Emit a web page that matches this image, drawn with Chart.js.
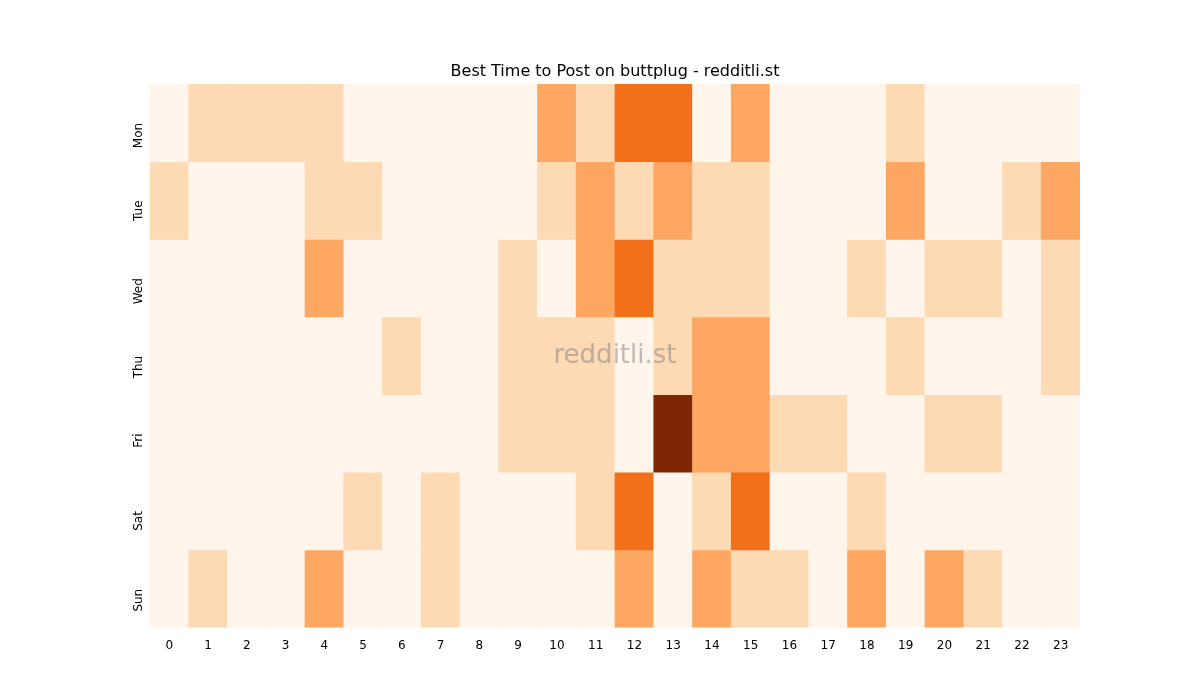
<!DOCTYPE html>
<html><head><meta charset="utf-8">
<script src="https://cdn.jsdelivr.net/npm/chart.js@4"></script>
<style>body{margin:0;background:#fff}#w{width:1200px;height:700px}</style></head>
<body><div id="w"><canvas id="c"></canvas></div>
<script>
const hours = Array.from({length:24},(_,i)=>String(i));
const days = ["Mon","Tue","Wed","Thu","Fri","Sat","Sun"];
const mon = [0,1,1,1,1,0,0,0,0,0,2,1,3,3,0,2,0,0,0,1,0,0,0,0];
const tue = [1,0,0,0,1,1,0,0,0,0,1,2,1,2,1,1,0,0,0,2,0,0,1,2];
const wed = [0,0,0,0,2,0,0,0,0,1,0,2,3,1,1,1,0,0,1,0,1,1,0,1];
const thu = [0,0,0,0,0,0,1,0,0,1,1,1,0,1,2,2,0,0,0,1,0,0,0,1];
const fri = [0,0,0,0,0,0,0,0,0,1,1,1,0,4,2,2,1,1,0,0,1,1,0,0];
const sat = [0,0,0,0,0,1,0,1,0,0,0,1,3,0,1,3,0,0,1,0,0,0,0,0];
const sun = [0,1,0,0,2,0,0,1,0,0,0,0,2,0,2,1,1,0,2,0,2,1,0,0];
const grid = [mon,tue,wed,thu,fri,sat,sun];
const palette = ["#fff5eb","#fdd9b4","#fda762","#f3701b","#7f2704"];
const deco = {id:'deco',afterDraw(ch){const c=ch.ctx,a=ch.chartArea;c.save();
c.fillStyle='#000';c.font='16px "DejaVu Sans"';c.textAlign='center';c.textBaseline='alphabetic';
c.fillText('Best Time to Post on buttplug - redditli.st',(a.left+a.right)/2,a.top-8);
c.fillStyle='rgba(128,128,128,0.5)';c.font='26px "DejaVu Sans"';c.textBaseline='middle';
c.fillText('redditli.st',(a.left+a.right)/2,(a.top+a.bottom)/2);c.restore();}};
new Chart(document.getElementById('c'),{type:'bar',
data:{labels:hours,datasets:grid.map((row,i)=>({label:days[i],data:row.map(()=>1),
 backgroundColor:row.map(v=>palette[v]),borderWidth:0,categoryPercentage:1,barPercentage:1,stack:'s'}))},
options:{responsive:true,maintainAspectRatio:false,animation:false,
layout:{padding:{left:110,right:120,top:84,bottom:44}},
plugins:{legend:{display:false}},
scales:{
x:{stacked:true,grid:{display:false},border:{display:false},ticks:{color:'#000',font:{family:'DejaVu Sans',size:12},maxRotation:0}},
y:{stacked:true,reverse:true,min:0,max:7,grid:{display:false},border:{display:false},
 afterBuildTicks(s){s.ticks=days.map((d,i)=>({value:i+0.5}));},
 afterFit(s){s.width=40;},
 ticks:{color:'#000',font:{family:'DejaVu Sans',size:12},minRotation:90,maxRotation:90,callback:(v)=>days[Math.floor(v)]}}}},
plugins:[deco]});
</script></body></html>
